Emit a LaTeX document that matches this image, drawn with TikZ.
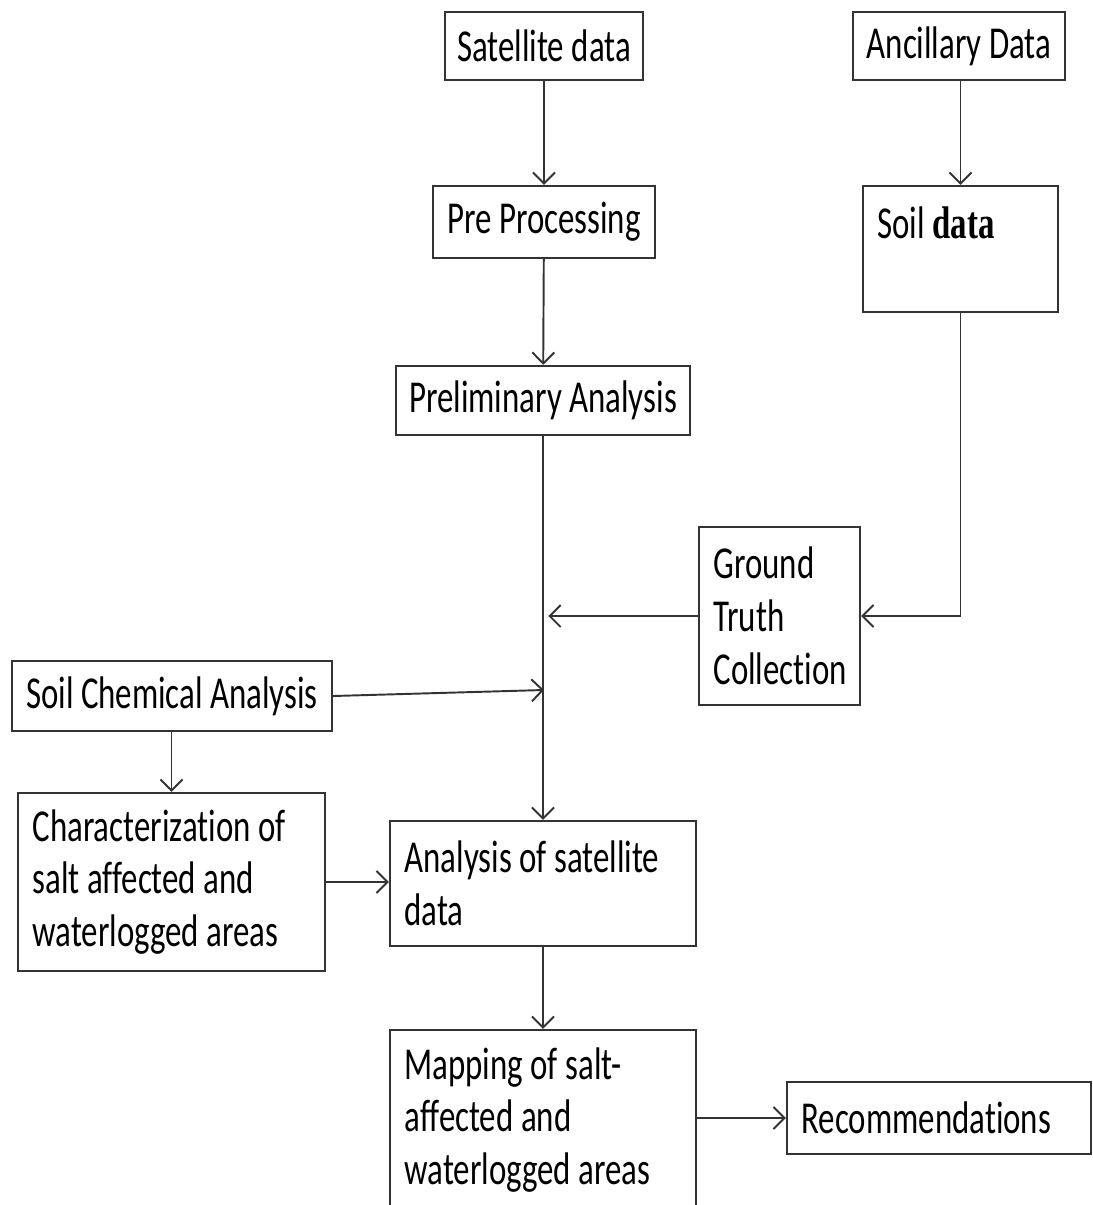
\documentclass[tikz,border=0pt]{standalone}
\usepackage{fontspec}
\setmainfont{Carlito}[FakeStretch=0.72,Ligatures=NoCommon]
\newfontfamily\datafont{Liberation Serif}[FakeStretch=0.72]
\usetikzlibrary{arrows.meta}

\begin{document}
\begin{tikzpicture}[x=0.02cm,y=-0.02cm,->,>={Straight Barb[length=2.2mm,width=4.4mm]},line width=1.1pt,draw=black!80,
    box/.style={draw=black!80,line width=1.4pt,rectangle,inner sep=0pt,align=center,font=\fontsize{26}{30}\selectfont},
    tbox/.style={box,align=flush left,inner xsep=0.29cm}]
                \useasboundingbox (0,0) rectangle (1093,1205);
                \node[box, minimum width=3.96cm, minimum height=1.36cm] (sat) at (544,46) {Satellite data};
                \node[box, minimum width=4.24cm, minimum height=1.36cm] (anc) at (959,46) {Ancillary Data};
                \node[box, minimum width=4.44cm, minimum height=1.44cm] (pre) at (544,222) {Pre Processing};
                \node[tbox, text width=3.32cm, minimum height=2.52cm] (soil) at (960.5,249) {Soil {\datafont\bfseries data}\\ \mbox{}};
                \node[box, minimum width=5.88cm, minimum height=1.38cm] (prelim) at (543,400.5) {Preliminary Analysis};
                \node[tbox, text width=2.64cm, minimum height=3.56cm] (ground) at (779.5,616) {Ground\\Truth\\Collection};
                \node[box, minimum width=6.4cm, minimum height=1.4cm] (chem) at (172,696) {Soil Chemical Analysis};
                \node[tbox, text width=5.56cm, minimum height=3.56cm] (charac) at (171.5,882) {Characterization of\\salt affected and\\waterlogged areas};
                \node[tbox, text width=5.54cm, minimum height=2.5cm] (anal) at (543,883.5) {Analysis of satellite\\data};
                \node[tbox, text width=5.54cm, minimum height=3.6cm] (map) at (543,1120) {Mapping of salt-\\affected and\\waterlogged areas};
                \node[tbox, text width=5.5cm, minimum height=1.44cm] (rec) at (939,1118) {Recommendations};
                \coordinate (join) at (544,690);
                \draw (sat) -- (pre);
                \draw (pre) -- (prelim);
                \draw (prelim) -- (anal);
                \draw (anc.south -| soil.north) -- (soil);
                \draw (soil.south) |- (ground.east);
                \draw[shorten >=3pt] (ground.west) -- (ground.west -| prelim.south);
                \draw (chem.east) -- (join);
                \draw (chem.south -| charac.north) -- (charac);
                \draw (charac.east) -- (anal.west |- charac.east);
                \draw (anal) -- (map);
                \draw (map.east |- rec.west) -- (rec);
            \end{tikzpicture}
\end{document}
